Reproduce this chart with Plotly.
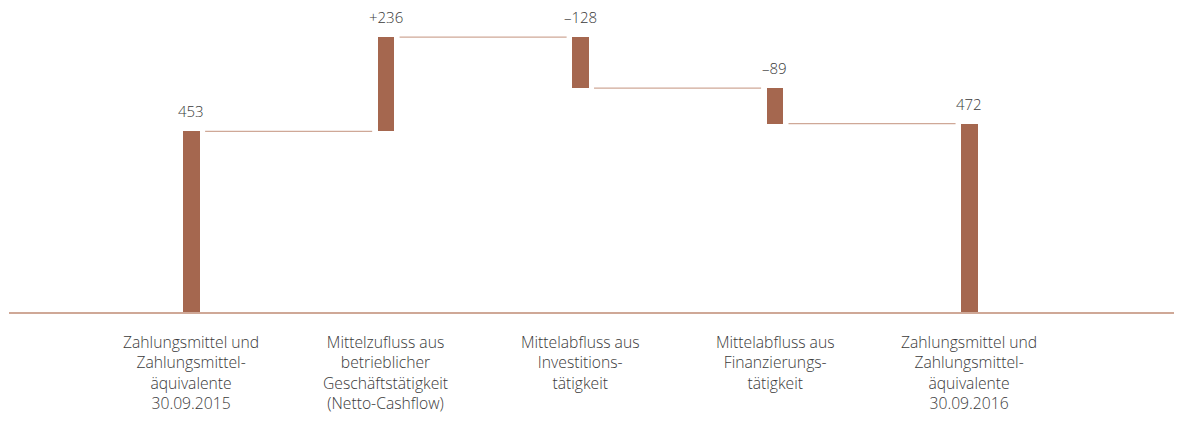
import plotly.graph_objects as go

categories = [
    "Zahlungsmittel und<br>Zahlungsmittel-<br>äquivalente<br>30.09.2015",
    "Mittelzufluss aus<br>betrieblicher<br>Geschäftstätigkeit<br>(Netto-Cashflow)",
    "Mittelabfluss aus<br>Investitions-<br>tätigkeit",
    "Mittelabfluss aus<br>Finanzierungs-<br>tätigkeit",
    "Zahlungsmittel und<br>Zahlungsmittel-<br>äquivalente<br>30.09.2016",
]
values = [453, 236, -128, -89, 472]
kinds = ["total", "relative", "relative", "relative", "total"]
value_labels = ["453", "+236", "\u2013128", "\u201389", "472"]

BAR = "#A5674F"
LINE = "#CFA897"
TEXT = "#3a3a3a"
FONT = "Open Sans"

# compute bases / tops
bases, heights, tops, levels = [], [], [], []
cum = 0
for v, k in zip(values, kinds):
    if k == "total":
        base, h = 0, v
        cum = v
    else:
        base = cum if v > 0 else cum + v
        h = abs(v)
        cum = cum + v
    bases.append(base)
    heights.append(h)
    tops.append(base + h)
    levels.append(cum)

xs = list(range(len(values)))
bw = 0.085
gap = 0.028

fig = go.Figure()
fig.add_trace(go.Bar(x=xs, y=heights, base=bases, width=bw,
                     marker=dict(color=BAR, line=dict(width=0)),
                     hoverinfo="skip", showlegend=False))

# connectors
for i in range(len(values) - 1):
    lvl = levels[i]
    fig.add_trace(go.Scatter(x=[xs[i] + bw / 2 + gap, xs[i + 1] - bw / 2 - gap],
                             y=[lvl, lvl], mode="lines",
                             line=dict(color=LINE, width=1.3),
                             hoverinfo="skip", showlegend=False))

annotations = []
for i, (t, lab) in enumerate(zip(tops, value_labels)):
    annotations.append(dict(x=xs[i], y=t, xref="x", yref="y", text=lab,
                            showarrow=False, yanchor="bottom", yshift=8,
                            font=dict(family=FONT, size=15, color=TEXT, weight=300)))
for i, c in enumerate(categories):
    annotations.append(dict(x=xs[i], y=0, xref="x", yref="y", text=c,
                            showarrow=False, yanchor="top", yshift=-17,
                            font=dict(family=FONT, size=15.7, color=TEXT, weight=300)))

fig.update_layout(
    width=1174, height=431,
    margin=dict(l=1, r=0, t=0, b=126.5),
    plot_bgcolor="white", paper_bgcolor="white",
    xaxis=dict(range=[-0.938, 5.094], showgrid=False, zeroline=False,
               showticklabels=False, showline=True, linecolor=LINE, linewidth=1.5,
               ticks=""),
    yaxis=dict(range=[0, 762], showgrid=False, zeroline=False,
               showticklabels=False, showline=False),
    annotations=annotations,
    bargap=0,
)

fig.write_html("out.html")
